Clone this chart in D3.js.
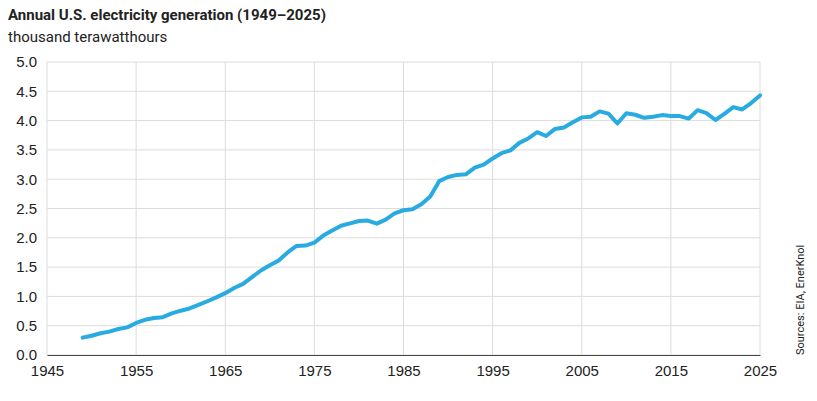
<!DOCTYPE html>
<html>
<head>
<meta charset="utf-8">
<script src="https://cdn.jsdelivr.net/npm/d3@7"></script>
<style>
  body { margin: 0; background: #fff; font-family: Roboto, "Noto Sans", sans-serif; }
  .tick text { font-size: 15px; fill: #222; }
</style>
</head>
<body>
<script>
var width = 817,
  height = 401;

// thousand TWh, EIA annual net generation
var data = [
  [1949, 0.296], [1950, 0.329], [1951, 0.371], [1952, 0.399], [1953, 0.443],
  [1954, 0.472], [1955, 0.547], [1956, 0.601], [1957, 0.632], [1958, 0.645],
  [1959, 0.71], [1960, 0.756], [1961, 0.794], [1962, 0.856], [1963, 0.917],
  [1964, 0.984], [1965, 1.055], [1966, 1.144], [1967, 1.214], [1968, 1.329],
  [1969, 1.442], [1970, 1.532], [1971, 1.613], [1972, 1.75], [1973, 1.861],
  [1974, 1.867], [1975, 1.918], [1976, 2.038], [1977, 2.124], [1978, 2.206],
  [1979, 2.247], [1980, 2.286], [1981, 2.295], [1982, 2.241], [1983, 2.31],
  [1984, 2.416], [1985, 2.47], [1986, 2.487], [1987, 2.572], [1988, 2.704],
  [1989, 2.967], [1990, 3.038], [1991, 3.073], [1992, 3.084], [1993, 3.197],
  [1994, 3.248], [1995, 3.353], [1996, 3.444], [1997, 3.492], [1998, 3.62],
  [1999, 3.695], [2000, 3.802], [2001, 3.737], [2002, 3.858], [2003, 3.883],
  [2004, 3.971], [2005, 4.055], [2006, 4.065], [2007, 4.157], [2008, 4.119],
  [2009, 3.95], [2010, 4.125], [2011, 4.1], [2012, 4.048], [2013, 4.066],
  [2014, 4.094], [2015, 4.078], [2016, 4.077], [2017, 4.034], [2018, 4.178],
  [2019, 4.128], [2020, 4.01], [2021, 4.116], [2022, 4.23], [2023, 4.19],
  [2024, 4.3], [2025, 4.43]
];

const svg = d3.select("body").append("svg").attr("width", width).attr("height", height);

const x = d3.scaleLinear().domain([1945, 2025]).range([47, 760]);
const y = d3.scaleLinear().domain([0, 5]).range([355, 62]);

svg.append("text").attr("x", 8).attr("y", 20)
  .style("font-size", "15px").style("font-weight", "bold").style("fill", "#222")
  .text("Annual U.S. electricity generation (1949\u20132025)");
svg.append("text").attr("x", 8).attr("y", 42)
  .style("font-size", "15px").style("fill", "#222")
  .text("thousand terawatthours");

// gridlines
svg.append("g").selectAll("line").data(d3.range(0, 5.01, 0.5)).enter().append("line")
  .attr("x1", x(1945)).attr("x2", x(2025))
  .attr("y1", (d) => y(d)).attr("y2", (d) => y(d))
  .attr("stroke", "#dcdcdc");
svg.append("g").selectAll("line").data(d3.range(1945, 2026, 10)).enter().append("line")
  .attr("x1", (d) => x(d)).attr("x2", (d) => x(d))
  .attr("y1", y(0)).attr("y2", y(5))
  .attr("stroke", "#dcdcdc");

const xAxis = svg.append("g").attr("transform", "translate(0," + y(0) + ")")
  .call(d3.axisBottom(x).tickValues(d3.range(1945, 2026, 10)).tickFormat(d3.format("d")).tickSize(0).tickPadding(10));
xAxis.select(".domain").attr("stroke", "#444");

const yAxis = svg.append("g").attr("transform", "translate(" + x(1945) + ",0)")
  .call(d3.axisLeft(y).tickValues(d3.range(0, 5.01, 0.5)).tickFormat(d3.format(".1f")).tickSize(0).tickPadding(10));
yAxis.select(".domain").remove();

svg.append("path").datum(data)
  .attr("fill", "none").attr("stroke", "#29abe2").attr("stroke-width", 4)
  .attr("stroke-linejoin", "round").attr("stroke-linecap", "round")
  .attr("d", d3.line().x((d) => x(d[0])).y((d) => y(d[1])));

svg.append("text")
  .attr("transform", "translate(804,355) rotate(-90)")
  .style("font-size", "11px").style("fill", "#222")
  .text("Sources: EIA,  EnerKnol");
</script>
</body>
</html>
